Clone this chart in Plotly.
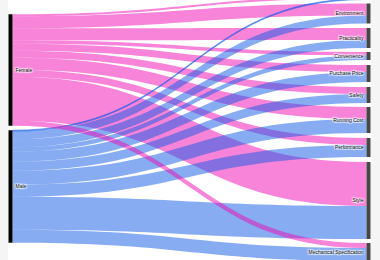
import plotly.graph_objects as go

sources = ["Female", "Male"]
targets = ["", "Environment", "Practicality", "Convenience", "Purchase Price",
           "Safety", "Running Cost", "Performance", "Style", "Mechanical Specification"]
female_values = [2, 12, 12, 3.5, 7, 7, 12, 7, 44, 5]
male_values = [1, 8, 8, 4.5, 10, 9, 14, 12, 33, 13]

W, H = 380, 260
# node centre positions (pixels)
left_x = 10.5
right_x = 368.5
left_y = [70, 186.5]
right_y = [-2, 13.5, 38, 56, 73.5, 95, 120, 147.5, 200.5, 252]

labels = sources + targets
node_x = [left_x / W] * 2 + [right_x / W] * len(targets)
node_y = [y / H for y in left_y] + [y / H for y in right_y]
node_colors = ["#000000"] * 2 + ["#474747"] * len(targets)

pink = "rgba(240,10,180,0.5)"
blue = "rgba(15,90,230,0.5)"

src, tgt, val, col = [], [], [], []
last = len(targets) - 1
for j, v in enumerate(female_values):
    if j != last:
        src.append(0); tgt.append(2 + j); val.append(v); col.append(pink)
for j, v in enumerate(male_values):
    src.append(1); tgt.append(2 + j); val.append(v); col.append(blue)
src.append(0); tgt.append(2 + last); val.append(female_values[last]); col.append(pink)

fig = go.Figure(go.Sankey(
    arrangement="fixed",
    node=dict(label=labels, x=node_x, y=node_y, pad=4, thickness=4,
              color=node_colors, line=dict(width=0)),
    link=dict(source=src, target=tgt, value=val, color=col),
    textfont=dict(family="Arial", size=5, color="#111"),
))

fig.update_layout(
    width=W, height=H,
    margin=dict(l=0, r=0, t=0, b=0),
    paper_bgcolor="#f5f5f5",
    shapes=[dict(type="rect", xref="paper", yref="paper",
                 x0=8 / W, x1=371 / W, y0=0, y1=1,
                 fillcolor="white", line=dict(width=0), layer="below")],
)

fig.write_html("out.html")
